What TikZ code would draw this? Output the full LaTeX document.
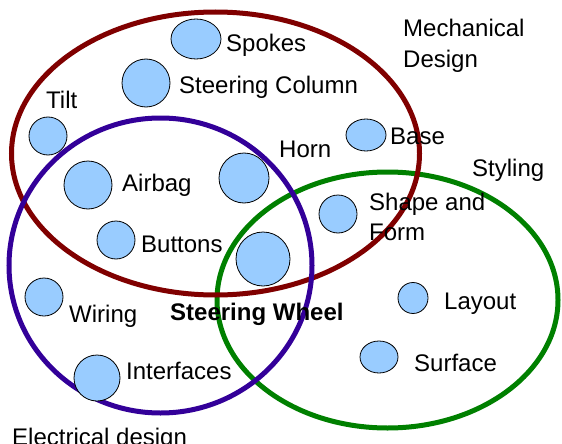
\documentclass[tikz,border=0pt]{standalone}
\usepackage{fontspec}
\setmainfont{Liberation Sans}
\usepackage{tikz}
\usetikzlibrary{shapes.geometric}

\definecolor{mechred}{HTML}{800000}
\definecolor{elecblue}{HTML}{330099}
\definecolor{stylegreen}{HTML}{008000}
\definecolor{bubblefill}{HTML}{99CCFF}

\begin{document}
\begin{tikzpicture}[
    x=1pt, y=-1pt,
    ring/.style={line width=5pt},
    bubble/.style={ellipse, draw=black, fill=bubblefill, inner sep=0pt, line width=0.8pt},
    lbl/.style={inner sep=0pt, anchor=base west, font=\fontsize{24}{30}\selectfont},
    twoline/.style={inner sep=0pt, anchor=north west, align=left}
]
    \useasboundingbox (0,0) rectangle (562,444);
    \clip (0,0) rectangle (562,444);
    \fill[white] (0,0) rectangle (562,444);

    % Design areas
    \draw[ring, stylegreen] (387.5,300) ellipse [x radius=170.5, y radius=128];
    \draw[ring, mechred] (215.5,153.5) ellipse [x radius=204, y radius=141.5];
    \draw[ring, elecblue] (160.5,265.5) ellipse [x radius=151.5, y radius=147.5];

    % Components
    \node[bubble, minimum width=50, minimum height=40] (spokes) at (196,39) {};
    \node[bubble, minimum size=48] (column) at (146,83) {};
    \node[bubble, minimum size=38] (tilt) at (48,136) {};
    \node[bubble, minimum size=48] (airbag) at (88,185) {};
    \node[bubble, minimum size=50] (horn) at (244,178) {};
    \node[bubble, minimum width=40, minimum height=32] (base) at (366,135) {};
    \node[bubble, minimum size=38] (shape) at (338,214) {};
    \node[bubble, minimum size=38] (buttons) at (116,240) {};
    \node[bubble, minimum size=54] (wheel) at (263,259) {};
    \node[bubble, minimum size=38] (wiring) at (44,297) {};
    \node[bubble, minimum size=46] (interfaces) at (97,378) {};
    \node[bubble, minimum width=30, minimum height=31] (layout) at (413,298) {};
    \node[bubble, minimum width=38, minimum height=32] (surface) at (379,357) {};

    % Labels
    \node[lbl] (spokesL) at (226,52) {Spokes};
    \node[lbl] (columnL) at (179,93) {Steering Column};
    \node[lbl] (tiltL) at (46,108) {Tilt};
    \node[lbl] (airbagL) at (122,191) {Airbag};
    \node[lbl] (hornL) at (279,157) {Horn};
    \node[lbl] (baseL) at (390,144) {Base};
    \node[lbl] (buttonsL) at (141,252) {Buttons};
    \node[lbl] (wiringL) at (69,322) {Wiring};
    \node[lbl] (interfacesL) at (126,379) {Interfaces};
    \node[lbl] (layoutL) at (444,309) {Layout};
    \node[lbl] (surfaceL) at (414,371) {Surface};
    \node[twoline, font=\fontsize{24}{30}\selectfont] (shapeL) at (369,193) {Shape and\\Form};
    \node[lbl, font=\fontsize{24}{30}\selectfont\bfseries] (wheelL) at (170,320) {Steering Wheel};

    % Area names
    \node[twoline, font=\fontsize{24}{31}\selectfont] (mech) at (403,19) {Mechanical\\Design};
    \node[lbl] (styling) at (472,176) {Styling};
    \node[lbl] (elec) at (12,445) {Electrical design};
\end{tikzpicture}
\end{document}
